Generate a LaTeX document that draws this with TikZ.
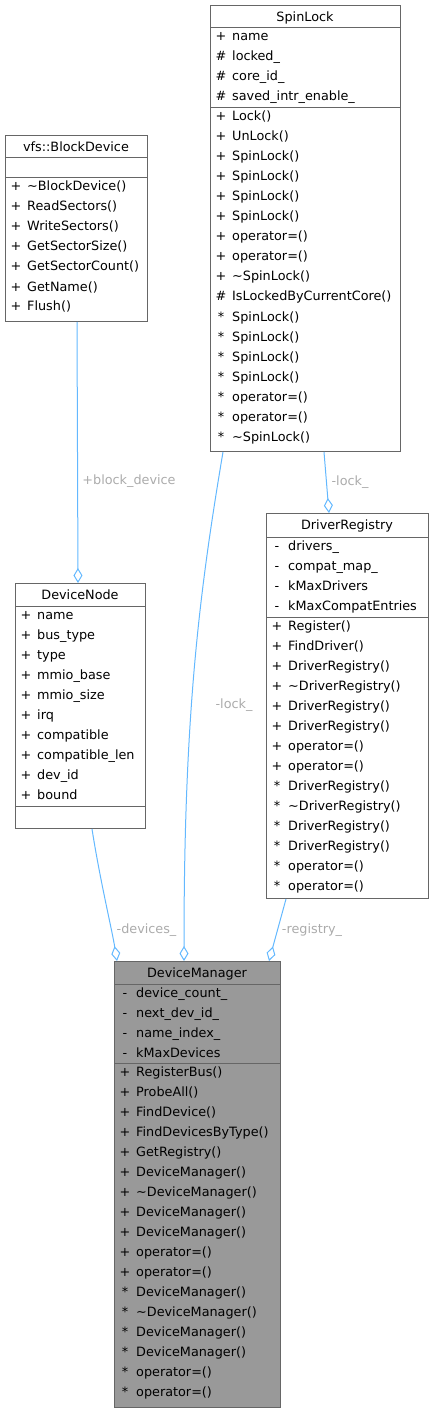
\documentclass[tikz,border=0pt]{standalone}
\usepackage{fontspec}
\setmainfont{DejaVu Sans}
\usetikzlibrary{arrows.meta}

\definecolor{edgeblue}{HTML}{63B8FF}
\definecolor{boxline}{HTML}{666666}
\definecolor{labelgray}{HTML}{ABABAB}
\definecolor{focusgray}{HTML}{999999}

\tikzset{
  classbox/.style={draw=boxline, fill=white, line width=1pt, inner sep=0pt, anchor=north west},
  focusbox/.style={classbox, fill=focusgray},
  classtitle/.style={anchor=base, inner sep=0pt},
  rowsym/.style={anchor=base, inner sep=0pt},
  rowtext/.style={anchor=base west, inner sep=0pt},
  sepline/.style={draw=boxline, line width=1pt},
  assoc/.style={draw=edgeblue, line width=1pt, -{Diamond[open, length=15pt, width=9pt]}},
  rolelabel/.style={anchor=base, inner sep=0pt, text=labelgray},
}

% name prefix, left x, section top y, list of symbol/text
\newcommand{\umlrows}[4]{%
  \foreach \vis/\memb [count=\i from 0] in {#4} {
    \node[rowsym] (#1-s\i) at (#2+11, #3+13+20*\i) {\vis};
    \node[rowtext] (#1-t\i) at (#2+22, #3+13+20*\i) {\memb};
  }%
}

\begin{document}
\begin{tikzpicture}[x=1pt, y=-1pt, font=\fontsize{12.8}{15}\selectfont]
\useasboundingbox (0,0) rectangle (433,1412);

% SpinLock
\node[classbox, minimum width=190pt, minimum height=446pt] (SpinLock) at (210,5) {};
\node[classtitle] (SpinLock-title) at (305,21.5) {SpinLock};
\draw[sepline] (210,28) -- (400,28);
\draw[sepline] (210,108) -- (400,108);
\umlrows{slm}{210}{28}{+/name, \#/locked\_, \#/core\_id\_, \#/saved\_intr\_enable\_}
\umlrows{slf}{210}{108}{+/Lock(), +/UnLock(), +/SpinLock(), +/SpinLock(), +/SpinLock(), +/SpinLock(),
  +/operator=(), +/operator=(), +/\textasciitilde SpinLock(), \#/IsLockedByCurrentCore(),
  */SpinLock(), */SpinLock(), */SpinLock(), */SpinLock(), */operator=(), */operator=(),
  */\textasciitilde SpinLock()}

% vfs::BlockDevice
\node[classbox, minimum width=142pt, minimum height=186pt] (BlockDevice) at (5,135) {};
\node[classtitle] (BlockDevice-title) at (76,151.5) {vfs::BlockDevice};
\draw[sepline] (5,158) -- (147,158);
\draw[sepline] (5,178) -- (147,178);
\umlrows{bdf}{5}{178}{+/\textasciitilde BlockDevice(), +/ReadSectors(), +/WriteSectors(),
  +/GetSectorSize(), +/GetSectorCount(), +/GetName(), +/Flush()}

% DeviceNode
\node[classbox, minimum width=130pt, minimum height=245pt] (DeviceNode) at (15,583) {};
\node[classtitle] (DeviceNode-title) at (80,599.5) {DeviceNode};
\draw[sepline] (15,606) -- (145,606);
\draw[sepline] (15,806) -- (145,806);
\umlrows{dnm}{15}{606}{+/name, +/bus\_type, +/type, +/mmio\_base, +/mmio\_size, +/irq,
  +/compatible, +/compatible\_len, +/dev\_id, +/bound}

% DriverRegistry
\node[classbox, minimum width=162pt, minimum height=385pt] (DriverRegistry) at (266,513) {};
\node[classtitle] (DriverRegistry-title) at (347,529.5) {DriverRegistry};
\draw[sepline] (266,537) -- (428,537);
\draw[sepline] (266,617) -- (428,617);
\umlrows{drm}{266}{537}{-/drivers\_, -/compat\_map\_, -/kMaxDrivers, -/kMaxCompatEntries}
\umlrows{drf}{266}{617}{+/Register(), +/FindDriver(), +/DriverRegistry(), +/\textasciitilde DriverRegistry(),
  +/DriverRegistry(), +/DriverRegistry(), +/operator=(), +/operator=(),
  */DriverRegistry(), */\textasciitilde DriverRegistry(), */DriverRegistry(), */DriverRegistry(),
  */operator=(), */operator=()}

% DeviceManager
\node[focusbox, minimum width=166pt, minimum height=446pt] (DeviceManager) at (114,961) {};
\node[classtitle] (DeviceManager-title) at (197,977.5) {DeviceManager};
\draw[sepline] (114,984) -- (280,984);
\draw[sepline] (114,1063) -- (280,1063);
\umlrows{dmm}{114}{984}{-/device\_count\_, -/next\_dev\_id\_, -/name\_index\_, -/kMaxDevices}
\umlrows{dmf}{114}{1063}{+/RegisterBus(), +/ProbeAll(), +/FindDevice(), +/FindDevicesByType(),
  +/GetRegistry(), +/DeviceManager(), +/\textasciitilde DeviceManager(), +/DeviceManager(),
  +/DeviceManager(), +/operator=(), +/operator=(), */DeviceManager(),
  */\textasciitilde DeviceManager(), */DeviceManager(), */DeviceManager(), */operator=(),
  */operator=()}

% associations
\draw[assoc] ([xshift=72pt]BlockDevice.south west) -- ([xshift=63pt]DeviceNode.north west);
\draw[assoc] ([xshift=114pt]SpinLock.south west) -- ([xshift=63pt]DriverRegistry.north west);
\draw[assoc] ([xshift=13pt]SpinLock.south west) .. controls (198,600) and (184,720) .. ([xshift=70pt]DeviceManager.north west);
\draw[assoc] ([xshift=77pt]DeviceNode.south west) .. controls (100,880) and (112,930) .. ([xshift=3pt]DeviceManager.north west);
\draw[assoc] ([xshift=20pt]DriverRegistry.south west) -- ([xshift=155pt]DeviceManager.north west);

\node[rolelabel] (lbl-block) at (129,484.5) {+block\_device};
\node[rolelabel] (lbl-lock-dr) at (350,485) {-lock\_};
\node[rolelabel] (lbl-lock-dm) at (234,708.5) {-lock\_};
\node[rolelabel] (lbl-devices) at (146.5,933.5) {-devices\_};
\node[rolelabel] (lbl-registry) at (312,933.5) {-registry\_};

\end{tikzpicture}
\end{document}
